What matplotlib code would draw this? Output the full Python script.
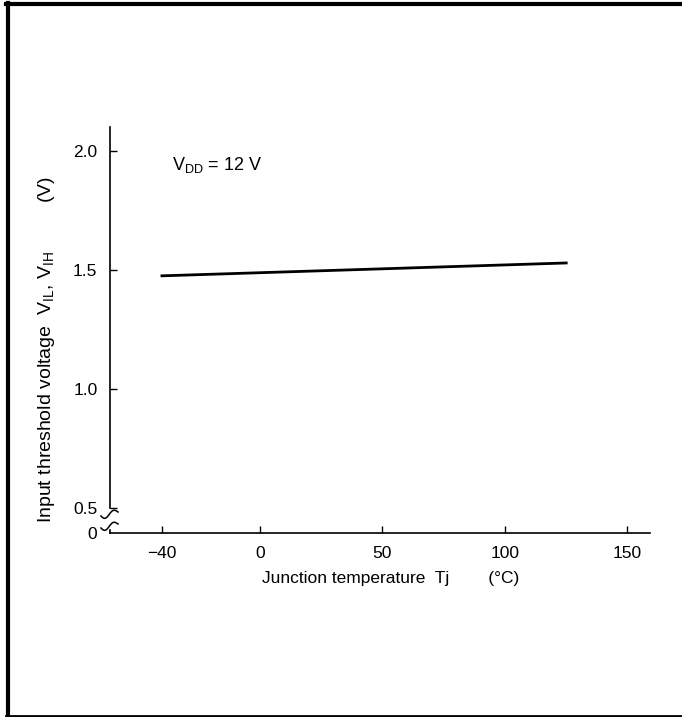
import numpy as np
import matplotlib.pyplot as plt
from matplotlib.lines import Line2D

plt.rcParams['font.family'] = ['Liberation Sans', 'DejaVu Sans']
plt.rcParams['mathtext.fontset'] = 'custom'
plt.rcParams['mathtext.rm'] = 'Liberation Sans'

# data
temp = [-40, 125]
v_th = [1.475, 1.529]
x_ticks = [-40, 0, 50, 100, 150]
x_labels = ['\u221240', '0', '50', '100', '150']
y_ticks = [0.395, 0.5, 1.0, 1.5, 2.0]
y_labels = ['0', '0.5', '1.0', '1.5', '2.0']

W, H = 682, 717
fig = plt.figure(figsize=(W / 100, H / 100), dpi=100)


def fx(px):
    return px / W


def fy(py):
    return 1 - py / H


ax = fig.add_axes([fx(110), fy(533), fx(650) - fx(110), fy(127) - fy(533)])
ax.plot(temp, v_th, color='black', lw=2)

ax.set_xlim(-61.2, 159.2)
ax.set_ylim(0.395, 2.1)
ax.set_xticks(x_ticks)
ax.set_xticklabels(x_labels)
ax.set_yticks(y_ticks)
ax.set_yticklabels(y_labels)
ax.tick_params(direction='in', length=5, width=1, labelsize=12.5, colors='black')
ax.tick_params(axis='y', pad=9)
ax.tick_params(axis='x', pad=9)
ax.yaxis.get_majorticklines()[0].set_visible(False)
ax.yaxis.get_majorticklines()[1].set_visible(False)
for s in ['top', 'right']:
    ax.spines[s].set_visible(False)
for s in ['left', 'bottom']:
    ax.spines[s].set_linewidth(1.2)
ax.spines['left'].set_bounds(0.5, 2.1)

# axis break squiggles
t = np.linspace(0, 1, 40)
for y0 in [514, 526]:
    xs = 101 + 17 * t
    ys = y0 + 3.5 * np.sin(2 * np.pi * t) * (1 - 0.3 * t) - 4 * t + 2
    fig.add_artist(Line2D(fx(xs), fy(ys), color='black', lw=1.1))
fig.add_artist(Line2D([fx(110), fx(110)], [fy(533), fy(530)], color='black', lw=1.2))

ax.text(-35.7, 1.94, r'$\mathregular{V_{DD}}$ = 12 V', fontsize=13, va='center', ha='left')

fig.text(fx(262), fy(578), 'Junction temperature  Tj        (\u00b0C)', fontsize=12.5,
         ha='left', va='center')
fig.text(fx(47), fy(350),
         r'Input threshold voltage  $\mathregular{V_{IL}}$, $\mathregular{V_{IH}}$         (V)',
         fontsize=14, rotation=90, ha='center', va='center')

# outer frame
fig.add_artist(Line2D([fx(7.5), fx(7.5)], [fy(3), fy(716)], color='black', lw=3))
fig.add_artist(Line2D([fx(6), fx(682)], [fy(3.5), fy(3.5)], color='black', lw=3))
fig.add_artist(Line2D([fx(6), fx(682)], [fy(715.5), fy(715.5)], color='black', lw=2))

fig.savefig('out.png', dpi=100)
